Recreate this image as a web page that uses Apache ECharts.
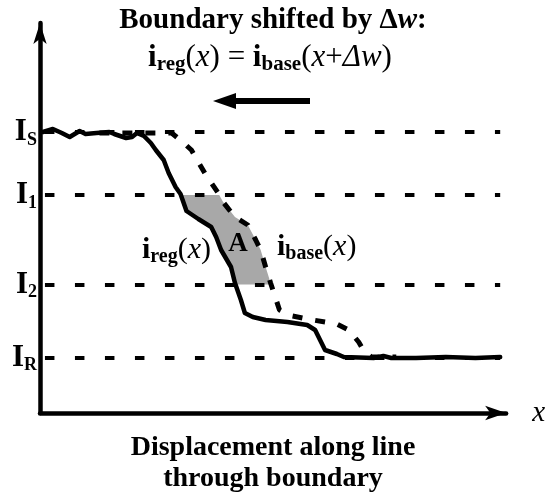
<!DOCTYPE html>
<html><head><meta charset="utf-8">
<script src="https://cdn.jsdelivr.net/npm/echarts@6/dist/echarts.min.js"></script>
<style>html,body{margin:0;padding:0;background:#fff}#c{width:548px;height:499px}</style>
</head><body><div id="c"></div>
<script>
// i_reg(x): measured boundary profile (displacement, intensity)
const regX = [3,13,22,30,40,46,57,70,75,87,93,98,105,112,117,125,130,137,142,148,160,173,178,183,193,197,203,207,215,228,250,270,278,282,288,300,307,337,347,355,380,410,440,465];
const regY = [281,284,280,276,282,279,280,281,279,275,276,280,277,270,263,253,240,226,219,202,194,186,176,163,146,130,113,100,96,93,91,88,83,75,63,59,56,55,57,55,55,56,55,56];
// i_base(x): base profile
const baseX = [60,100,133,143,153,167,180,185,197,210,218,223,228,233,242,255,270,300,312,322,328,335,360];
const baseY = [280,280,280,272,263,239,220,211,196,188,173,163,146,130,103,97,94,89,83,71,61,56,56];
// intensity levels
const levelNames = ['S','1','2','R'];
const levelValues = [281,218,128.5,55.5];
const levelStart = 5, levelEnd = 465;

const FF = '"Liberation Serif","DejaVu Serif",serif';
function mkRich(main, sub, lh){
  return {
    b:{fontFamily:FF,fontWeight:'bold',fontSize:main,lineHeight:lh,color:'#000'},
    n:{fontFamily:FF,fontSize:main,lineHeight:lh,color:'#000'},
    it:{fontFamily:FF,fontStyle:'italic',fontSize:main,lineHeight:lh,color:'#000'},
    bi:{fontFamily:FF,fontStyle:'italic',fontWeight:'bold',fontSize:main,lineHeight:lh,color:'#000'},
    sub:{fontFamily:FF,fontWeight:'bold',fontSize:sub,lineHeight:Math.round(sub*0.62),verticalAlign:'bottom',color:'#000'}
  };
}
const richTitle = mkRich(29,18,33);
const richFormula = mkRich(31,21,35);
const richLabel = mkRich(30,20,34);

function pairs(xs, ys){ return xs.map((x,i)=>[x,ys[i]]); }
const reg = pairs(regX, regY), base = pairs(baseX, baseY);

// region A between the two curves, from level I2 to level I1
function clip(pts, lo, hi){
  const out = [];
  for (let i=0;i<pts.length;i++){
    const p = pts[i];
    if (i>0){
      const q = pts[i-1];
      [hi, lo].forEach(L=>{
        if ((q[1]-L)*(p[1]-L) < 0){
          const t=(L-q[1])/(p[1]-q[1]); out.push([q[0]+t*(p[0]-q[0]), L]);
        }
      });
    }
    if (p[1]<=hi && p[1]>=lo) out.push(p);
  }
  return out;
}
const I1 = levelValues[1], I2 = levelValues[2];
const regionA = clip(reg, I2, I1).concat(clip(base, I2, I1).reverse());

const chart = echarts.init(document.getElementById('c'));
chart.setOption({
  animation:false,
  grid:{left:40,right:37,top:23,bottom:86},
  xAxis:{type:'value',min:0,max:471,
    axisLine:{show:true,symbol:['none','arrow'],symbolSize:[11,21],lineStyle:{color:'#000',width:4.5}},
    axisTick:{show:false},axisLabel:{show:false},splitLine:{show:false},
    name:'x',nameLocation:'end',nameGap:26,
    nameTextStyle:{fontFamily:FF,fontStyle:'italic',fontSize:29,color:'#000',verticalAlign:'middle',padding:[9,0,0,0]}},
  yAxis:{type:'value',min:0,max:390,
    axisLine:{show:true,symbol:['none','arrow'],symbolSize:[10,21],lineStyle:{color:'#000',width:4.5}},
    axisTick:{show:false},axisLabel:{show:false},splitLine:{show:false}},
  graphic:[
    {type:'text',x:273,y:21,style:{text:'{b|Boundary shifted by Δ}{bi|w}{b|:}',rich:richTitle,textAlign:'center',textVerticalAlign:'middle'}},
    {type:'text',x:270,y:58,style:{text:'{b|i}{sub|reg}{n|(}{it|x}{n|) = }{b|i}{sub|base}{n|(}{it|x}{n|+}{it|Δw}{n|)}',rich:richFormula,textAlign:'center',textVerticalAlign:'middle'}},
    {type:'group',children:[
      {type:'line',shape:{x1:310,y1:101,x2:232,y2:101},style:{stroke:'#000',lineWidth:6}},
      {type:'polygon',shape:{points:[[213,101],[236,93],[236,109]]},style:{fill:'#000'}}
    ]},
    {type:'text',style:{x:142,y:250,text:'{b|i}{sub|reg}{n|(}{it|x}{n|)}',rich:richLabel,textVerticalAlign:'middle'}},
    {type:'text',style:{x:277,y:247,text:'{b|i}{sub|base}{n|(}{it|x}{n|)}',rich:richLabel,textVerticalAlign:'middle'}},
    {type:'text',z:100,style:{x:238,y:244,text:'A',font:'bold 27px '+FF,fill:'#000',textAlign:'center',textVerticalAlign:'middle'}},
    {type:'text',style:{x:273,y:463,text:'Displacement along line\nthrough boundary',font:'bold 28px '+FF,lineHeight:31,fill:'#000',textAlign:'center',textVerticalAlign:'middle'}}
  ],
  series:[
    {type:'line',name:'levels',data:[],silent:true,z:1,
      markLine:{silent:true,symbol:'none',animation:false,
        lineStyle:{color:'#000',width:4,type:[9.5,20.5],cap:'butt'},
        label:{show:true,position:'start',distance:8,formatter:p=>'{I|I}{s|'+p.name+'}',
          rich:{I:{fontFamily:FF,fontWeight:'bold',fontSize:31,lineHeight:34,color:'#000'},
                s:{fontFamily:FF,fontWeight:'bold',fontSize:18,lineHeight:11,verticalAlign:'bottom',color:'#000'}}},
        data:levelValues.map((v,i)=>[{name:levelNames[i],coord:[levelStart,v]},{coord:[levelEnd,v]}])}},
    {type:'custom',name:'A',z:2,silent:true,data:[0],
      renderItem:(params,api)=>({type:'polygon',shape:{points:regionA.map(p=>api.coord(p))},style:{fill:'#a8a8a8'}})},
    {type:'line',name:'i_base',data:base,z:3,symbol:'none',smooth:false,
      lineStyle:{color:'#000',width:5,type:[10,13],cap:'butt'}},
    {type:'line',name:'i_reg',data:reg,z:4,symbol:'none',smooth:false,
      lineStyle:{color:'#000',width:4.5,join:'round',cap:'round'}}
  ]
});
</script></body></html>
